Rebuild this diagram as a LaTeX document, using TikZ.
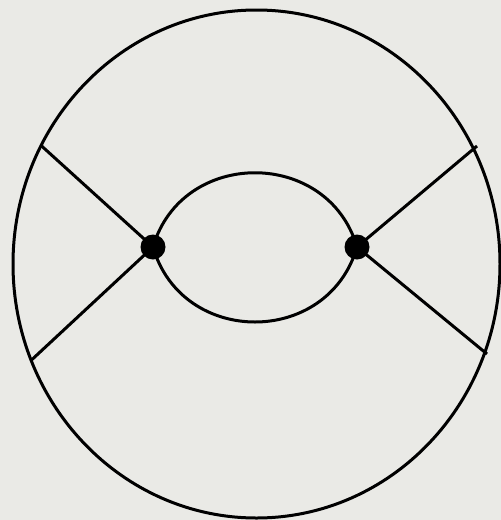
\documentclass[tikz,border=0pt]{standalone}
\definecolor{bg}{RGB}{234,234,230}
\begin{document}
\begin{tikzpicture}[x=1pt,y=-1pt,
  edge/.style={line width=3pt,black},
  vertex/.style={circle,fill=black,inner sep=0pt,minimum size=25pt}]
\fill[bg] (0,0) rectangle (501,520);
\useasboundingbox (0,0) rectangle (501,520);
\draw[edge] (256.5,264) ellipse [x radius=243.5, y radius=254];
\node[vertex] (L) at (153,247) {};
\node[vertex] (R) at (357,247) {};
\coordinate (LT) at (40.5,145);
\coordinate (LB) at (31.5,360);
\coordinate (RT) at (477,146);
\coordinate (RB) at (487,354);
\draw[edge] (L.center) -- (LT);
\draw[edge] (L.center) -- (LB);
\draw[edge] (R.center) -- (RT);
\draw[edge] (R.center) -- (RB);
\draw[edge] (L.center) .. controls (182,148) and (328,148) .. (R.center);
\draw[edge] (L.center) .. controls (182,347) and (328,347) .. (R.center);
\end{tikzpicture}
\end{document}
